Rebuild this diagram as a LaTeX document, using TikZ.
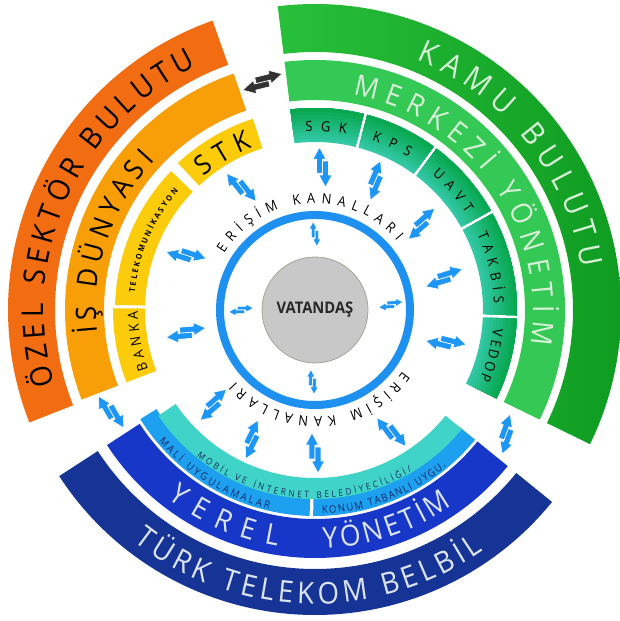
\documentclass[tikz,border=0pt]{standalone}
\usepackage{fontspec}
\setmainfont{Open Sans}
\newfontfamily\lab[FakeStretch=0.92]{Open Sans}
\usetikzlibrary{decorations.text}
\definecolor{ozel}{RGB}{242,108,18}
\definecolor{isd}{RGB}{248,158,6}
\definecolor{yel}{RGB}{252,204,10}
\definecolor{kamuL}{RGB}{40,192,58}
\definecolor{kamuR}{RGB}{12,152,30}
\definecolor{merk}{RGB}{52,200,85}
\definecolor{cellO}{RGB}{8,168,80}
\definecolor{cellI}{RGB}{50,200,165}
\definecolor{belbil}{RGB}{22,52,150}
\definecolor{yerel}{RGB}{22,55,200}
\definecolor{lblue}{RGB}{30,160,240}
\definecolor{tealb}{RGB}{64,212,200}
\definecolor{ringb}{RGB}{30,145,240}
\definecolor{arrb}{RGB}{30,150,245}
\definecolor{darka}{RGB}{50,50,50}
\definecolor{lgtxt}{RGB}{215,240,215}
\definecolor{lbtxt}{RGB}{220,228,242}
\definecolor{navytxt}{RGB}{20,40,100}
\definecolor{gcirc}{RGB}{200,200,200}
\definecolor{gedge}{RGB}{165,165,150}
\definecolor{vtxt}{RGB}{40,40,40}
% annular sector: fill, r1, r2, a1, a2
\newcommand\annsec[5]{\fill[#1] (#4:#3pt) arc[start angle=#4,end angle=#5,radius=#3pt] -- (#5:#2pt) arc[start angle=#5,end angle=#4,radius=#2pt] -- cycle;}
% radial gradient sector: inner col, outer col, r1, r2, a1, a2
\newcommand\gradsec[6]{%
 \foreach \k in {0,...,9}{%
  \pgfmathsetmacro\rr{#3+\k*(#4-#3)/10}%
  \pgfmathtruncatemacro\pp{100-\k*100/9}%
  \fill[#1!\pp!#2] (#5:#4pt) arc[start angle=#5,end angle=#6,radius=#4pt] -- (#6:\rr pt) arc[start angle=#6,end angle=#5,radius=\rr pt] -- cycle;}}
% text on arc: radius, a1, a2, color, format, text
\newcommand\curvtext[6]{\path[decorate,decoration={text along path,text align={fit to path},text color=#4,text={|\lab#5|#6}}] (#2:#1pt) arc[start angle=#2,end angle=#3,radius=#1pt];}
% double arrow: color, angle, radius, rotation, scale
\newcommand\dblarr[5]{%
 \begin{scope}[shift={(#2:#3pt)},rotate=#4,scale=#5]
  \filldraw[fill=#1,draw=white,line width=0.6pt,line join=round] (6pt,0pt) -- (-8pt,0pt) -- (-8pt,3.5pt) -- (-20pt,-3pt) -- (-8pt,-9.5pt) -- (-8pt,-6pt) -- (6pt,-6pt) -- cycle;
  \filldraw[fill=#1,draw=white,line width=0.6pt,line join=round] (-6pt,0pt) -- (8pt,0pt) -- (8pt,-3.5pt) -- (20pt,3pt) -- (8pt,9.5pt) -- (8pt,6pt) -- (-6pt,6pt) -- cycle;
 \end{scope}}
\newcommand\fs[1]{\fontsize{#1}{#1}\selectfont}
\begin{document}
\begin{tikzpicture}
\useasboundingbox (-315pt,-311pt) rectangle (305pt,310pt);
% ---------- orange / private sector
\annsec{ozel}{260}{307}{109.5}{201.5}
\annsec{isd}{211}{250}{109}{201}
\annsec{yel}{170}{201}{108}{133}
\annsec{yel}{170}{200}{136}{178.5}
\annsec{yel}{170}{202}{179.5}{201}
% ---------- green / public
\shade[left color=kamuL,right color=kamuR] (-26:306pt) arc[start angle=-26,end angle=97,radius=306pt] -- (97:258pt) arc[start angle=97,end angle=-26,radius=258pt] -- cycle;
\annsec{merk}{210}{250}{-26}{97}
\gradsec{cellI}{cellO}{168}{202}{97}{76}
\gradsec{cellI}{cellO}{168}{202}{75}{54}
\gradsec{cellI}{cellO}{168}{202}{53}{29.5}
\gradsec{cellI}{cellO}{168}{202}{28.5}{-1.5}
\gradsec{cellI}{cellO}{168}{202}{-2.5}{-26}
% ---------- blue / local
\annsec{belbil}{259}{305}{-147}{-39}
\annsec{yerel}{209}{248}{-147}{-39}
\annsec{lblue}{187}{206}{-148}{-91.5}
\annsec{lblue}{187}{206}{-90.5}{-39}
\annsec{tealb}{168}{189}{-146}{-39}
% ---------- centre
\draw[ringb,line width=8pt] (0,0) circle[radius=95pt];
\node[circle,fill=gcirc,draw=gedge,line width=0.8pt,minimum size=106pt,inner sep=0pt,text=vtxt,font=\lab\fs{16}\bfseries] (vat) at (0,0) {VATANDAŞ};
% ---------- texts (clockwise, tops outward)
\curvtext{270}{68}{9}{lgtxt}{\fs{31}}{KAMU BULUTU}
\curvtext{218}{80}{-9}{lgtxt}{\fs{29}}{MERKEZİ YÖNETİM}
\curvtext{271}{196}{116}{black}{\fs{30}}{ÖZEL SEKTÖR BULUTU}
\curvtext{219}{186}{137}{black}{\fs{28}}{İŞ DÜNYASI}
\curvtext{174}{130}{111}{black}{\fs{27}}{STK}
\curvtext{181}{174.5}{139}{black}{\fs{8}\bfseries}{TELEKOMUNİKASYON}
\curvtext{177}{199.5}{180.5}{black}{\fs{14}}{BANKA}
\curvtext{179}{93}{80}{black}{\fs{14}}{SGK}
\curvtext{179}{71.5}{58.5}{black}{\fs{14}}{KPS}
\curvtext{179}{49}{32.5}{black}{\fs{14}}{UAVT}
\curvtext{179}{25}{2}{black}{\fs{14}}{TAKBİS}
\curvtext{179}{-6}{-23}{black}{\fs{14}}{VEDOP}
\curvtext{107}{148}{40}{black}{\fs{14}}{ERİŞİM KANALLARI}
\curvtext{107}{-35}{-138}{black}{\fs{14}}{ERİŞİM KANALLARI}
% ---------- texts (counter-clockwise, tops inward)
\curvtext{294}{-128}{-55}{lbtxt}{\fs{30}}{TÜRK TELEKOM BELBİL}
\curvtext{239}{-128}{-99}{lbtxt}{\fs{29}}{YEREL}
\curvtext{239}{-88}{-55}{lbtxt}{\fs{29}}{YÖNETİM}
\curvtext{204}{-140}{-103}{navytxt}{\fs{10.5}}{MALİ UYGULAMALAR}
\curvtext{204}{-88}{-50}{navytxt}{\fs{10.5}}{KONUM TABANLI UYGU.}
\curvtext{188}{-129}{-59}{navytxt}{\fs{9}}{MOBİL VE İNTERNET BELEDİYECİLİĞİ/}
% ---------- arrows
\foreach \a/\r/\o in {157/140/162, 121/143/128, 87/143/90, 65/143/67, 39/137/41, 14/133/17, -14/135/-14, -58/144/-53, -90/143/-90, -116/144/-116, -137/139/-139, -170/131/-175}{
  \dblarr{arrb}{\a}{\r}{\o}{1}}
\foreach \a/\r in {90/76, 4/76, -92/72, 180/74}{
  \dblarr{arrb}{\a}{\r}{\a}{0.62}}
\dblarr{darka}{103}{234}{14}{1.05}
\dblarr{arrb}{-153.4}{228}{-60}{1}
\dblarr{arrb}{-33}{228}{70}{1}
\end{tikzpicture}
\end{document}
